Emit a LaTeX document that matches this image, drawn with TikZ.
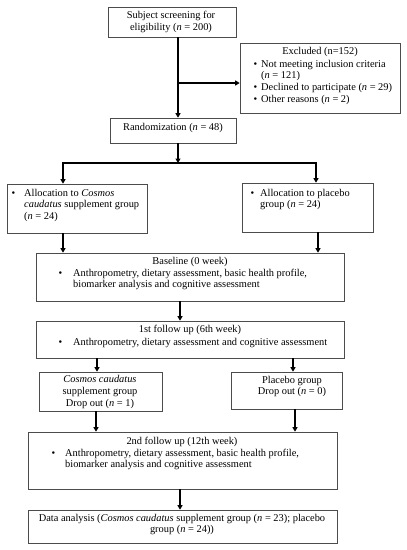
\documentclass[tikz,border=0pt]{standalone}
\usepackage{fontspec}
\setmainfont{Liberation Serif}
\usetikzlibrary{arrows.meta}
\newcommand\bl[1]{\llap{\textbullet\hspace{#1}}}
\begin{document}
\begin{tikzpicture}[x=1pt,y=-1pt,
  box/.style={draw=black!70, line width=0.7pt, inner sep=0pt},
  arr/.style={line width=1.6pt, -{Triangle[length=4.5pt,width=5pt]}},
  ln/.style={line width=1.6pt},
  txt/.style={inner sep=0pt, font=\fontsize{10.4}{11.7}\selectfont, align=left, anchor=north west},
  ctxt/.style={inner sep=0pt, font=\fontsize{10.4}{11.7}\selectfont, align=center}]
\useasboundingbox (0,0) rectangle (407,550);
% boxes
\node[box, minimum width=128pt, minimum height=30pt] (screen) at (172,22) {};
\node[box, minimum width=160pt, minimum height=70pt] (excl) at (320,78) {};
\node[box, minimum width=126pt, minimum height=25pt] (rand) at (173,130.5) {};
\node[box, minimum width=140pt, minimum height=49pt] (allocL) at (77,208.5) {};
\node[box, minimum width=131pt, minimum height=49pt] (allocR) at (307.5,207.5) {};
\node[box, minimum width=308pt, minimum height=48pt] (base) at (190,277) {};
\node[box, minimum width=308pt, minimum height=37pt] (fu1) at (190,339.5) {};
\node[box, minimum width=123pt, minimum height=39pt] (dropL) at (100.5,391.5) {};
\node[box, minimum width=111pt, minimum height=37pt] (dropR) at (286.5,390.5) {};
\node[box, minimum width=309pt, minimum height=57pt] (fu2) at (182.5,460.5) {};
\node[box, minimum width=309pt, minimum height=33pt] (data) at (182.5,526.5) {};
% texts
\node[ctxt] (tscreen) at (171,22) {Subject screening for\\eligibility (\textit{n} = 200)};
\node[ctxt] (texcl) at (320,52) {Excluded (n=152)};
\node[txt] (texclb) at (261,59.6) {\bl{4pt}Not meeting inclusion criteria\\(\textit{n} = 121)\\\bl{4pt}Declined to participate (\textit{n} = 29)\\\bl{4pt}Other reasons (\textit{n} = 2)};
\node[ctxt] (trand) at (173,128) {Randomization (\textit{n} = 48)};
\node[txt] (tallocL) at (24,188.6) {\bl{9pt}Allocation to \textit{Cosmos}\\\textit{caudatus} supplement group\\(\textit{n} = 24)};
\node[txt] (tallocR) at (260,188.6) {\bl{6pt}Allocation to placebo\\group (\textit{n} = 24)};
\node[ctxt] (tbase) at (190,262) {Baseline (0 week)};
\node[txt] (tbaseb) at (73,268.6) {\bl{11pt}Anthropometry, dietary assessment, basic health profile,\\biomarker analysis and cognitive assessment};
\node[ctxt] (tfu1) at (190,330) {1st follow up (6th week)};
\node[txt] (tfu1b) at (73,337.6) {\bl{11pt}Anthropometry, dietary assessment and cognitive assessment};
\node[ctxt] (tdropL) at (100,392) {\textit{Cosmos caudatus}\\supplement group\\Drop out (\textit{n} = 1)};
\node[ctxt] (tdropR) at (292,386.5) {Placebo group\\Drop out (\textit{n} = 0)};
\node[ctxt] (tfu2) at (182,442) {2nd follow up (12th week)};
\node[txt] (tfu2b) at (65,448.6) {\bl{10pt}Anthropometry, dietary assessment, basic health profile,\\biomarker analysis and cognitive assessment};
\node[ctxt] (tdata) at (182,524.5) {Data analysis (\textit{Cosmos caudatus} supplement group (\textit{n} = 23); placebo\\group (\textit{n} = 24))};
% coordinates
\coordinate (c1) at (178,83);
\coordinate (j1) at (178,163);
\coordinate (jL) at (63,163);
\coordinate (jR) at (316,163);
\coordinate (xa) at (63,0);
\coordinate (xb) at (318,0);
\coordinate (xc) at (180,0);
\coordinate (xd) at (97,0);
\coordinate (xe) at (293,0);
\coordinate (xf) at (96,0);
\coordinate (xg) at (295,0);
% connectors
\draw[arr] (screen.south -| c1) -- (rand.north -| c1);
\draw[arr] (c1) -- (c1 -| excl.west);
\draw[arr] (rand.south -| c1) -- (j1);
\draw[arr] (jR) -- (jL) -- (allocL.north -| jL);
\draw[arr] (jL) -- (jR) -- (allocR.north -| jR);
\draw[arr] (allocL.south -| xa) -- (base.north -| xa);
\draw[arr] (allocR.south -| xb) -- (base.north -| xb);
\draw[arr] (base.south -| xc) -- (fu1.north -| xc);
\draw[arr] (fu1.south -| xd) -- (dropL.north -| xd);
\draw[arr] (fu1.south -| xe) -- (dropR.north -| xe);
\draw[arr] (dropL.south -| xf) -- (fu2.north -| xf);
\draw[arr] (dropR.south -| xg) -- (fu2.north -| xg);
\draw[arr] (fu2.south -| xc) -- (data.north -| xc);
\end{tikzpicture}
\end{document}
